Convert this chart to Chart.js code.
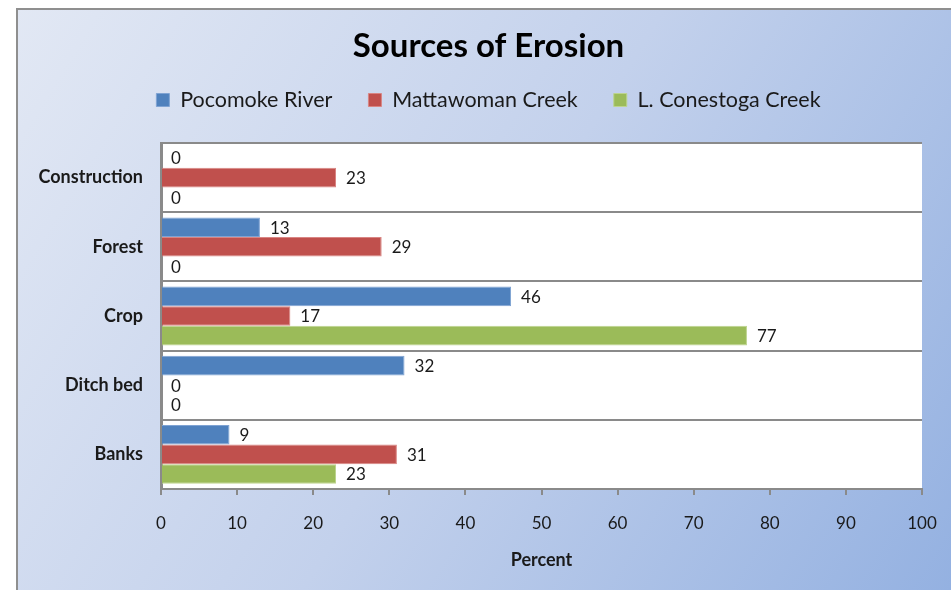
<!DOCTYPE html>
<html>
<head>
<meta charset="utf-8">
<script src="https://cdn.jsdelivr.net/npm/chart.js@4.4.1/dist/chart.umd.min.js"></script>
<style>
  html, body { margin: 0; padding: 0; background: #fff; overflow: hidden; }
  #wrap { width: 951px; height: 590px; }
</style>
</head>
<body>
<div id="wrap"><canvas id="c" width="951" height="590"></canvas></div>
<script>
// Erosion sources, percent of sediment per watershed
const categories = ['Construction', 'Forest', 'Crop', 'Ditch bed', 'Banks'];
const pocomokeRiver = [0, 13, 46, 32, 9];
const mattawomanCreek = [23, 29, 17, 0, 31];
const conestogaCreek = [0, 0, 77, 0, 23];
const xMin = 0, xMax = 100, xStep = 10;

const FONT = 'Lato, "Open Sans", sans-serif';

// Panel background: diagonal blue gradient, grey frame, white plot area
const panelBackground = {
  id: 'panelBackground',
  beforeDraw(chart) {
    const { ctx, width, height, chartArea } = chart;
    ctx.save();
    ctx.fillStyle = '#ffffff';
    ctx.fillRect(0, 0, width, height);
    const g = ctx.createLinearGradient(16, 8, width, height);
    g.addColorStop(0, '#e2e8f4');
    g.addColorStop(0.5, '#c3d1ec');
    g.addColorStop(1, '#94b1e1');
    ctx.fillStyle = g;
    ctx.fillRect(16, 8, width - 16, height - 8);
    ctx.strokeStyle = '#8f8f8f';
    ctx.lineWidth = 2;
    ctx.beginPath();
    ctx.moveTo(17, height);
    ctx.lineTo(17, 9);
    ctx.lineTo(width, 9);
    ctx.stroke();
    ctx.fillStyle = '#ffffff';
    ctx.fillRect(chartArea.left, chartArea.top, chartArea.right - chartArea.left, chartArea.bottom - chartArea.top);
    ctx.restore();
  }
};

// Value labels just past the end of each bar
const barValues = {
  id: 'barValues',
  afterDatasetsDraw(chart) {
    const { ctx } = chart;
    ctx.save();
    ctx.font = '17px ' + FONT;
    ctx.fillStyle = '#1a1a1a';
    ctx.textAlign = 'left';
    ctx.textBaseline = 'middle';
    chart.data.datasets.forEach((ds, i) => {
      chart.getDatasetMeta(i).data.forEach((bar, j) => {
        ctx.fillText(String(ds.data[j]), bar.x + 10, bar.y + 1);
      });
    });
    ctx.restore();
  }
};

new Chart(document.getElementById('c'), {
  type: 'bar',
  data: {
    labels: categories,
    datasets: [
      { label: 'Pocomoke River', data: pocomokeRiver, backgroundColor: '#4f81bd', borderColor: '#7fa3d3', borderWidth: 1, xAxisID: 'x', yAxisID: 'y' },
      { label: 'Mattawoman Creek', data: mattawomanCreek, backgroundColor: '#c0504d', borderColor: '#d98583', borderWidth: 1, xAxisID: 'x', yAxisID: 'y' },
      { label: 'L. Conestoga Creek', data: conestogaCreek, backgroundColor: '#9bbb59', borderColor: '#bdd48e', borderWidth: 1, xAxisID: 'x', yAxisID: 'y' }
    ]
  },
  options: {
    indexAxis: 'y',
    responsive: false,
    animation: false,
    devicePixelRatio: 1,
    barPercentage: 1,
    categoryPercentage: 0.85,
    layout: { padding: { left: 16, top: 8, right: -10, bottom: 19 } },
    plugins: {
      tooltip: { enabled: false },
      title: {
        display: true,
        text: 'Sources of Erosion',
        color: '#000',
        font: { family: FONT, size: 33, weight: 'bold', lineHeight: 1.2 },
        padding: { top: 18.2, bottom: -12.55 }
      },
      legend: {
        display: true,
        position: 'top',
        labels: {
          color: '#1a1a1a',
          font: { family: FONT, size: 21.5 },
          boxWidth: 13,
          boxHeight: 13,
          padding: 36
        }
      }
    },
    scales: {
      x: {
        type: 'linear',
        position: 'bottom',
        min: xMin,
        max: xMax,
        afterFit(s) { s.height = 82; s.paddingLeft = 0; s.paddingRight = 0; },
        ticks: { stepSize: xStep, color: '#1a1a1a', font: { family: FONT, size: 17 }, padding: 18 },
        grid: { drawOnChartArea: false, drawTicks: true, tickLength: 6, color: '#8a8a8a', lineWidth: 2 },
        border: { display: true, color: '#8a8a8a', width: 2 },
        title: { display: true, text: 'Percent', color: '#1a1a1a', font: { family: FONT, size: 18, weight: 'bold' }, padding: { top: 10, bottom: 0 } }
      },
      xTop: {
        type: 'linear',
        position: 'top',
        min: xMin,
        max: xMax,
        afterFit(s) { s.height = 22.25; s.paddingLeft = 0; s.paddingRight = 0; },
        ticks: { display: false },
        grid: { display: false },
        border: { display: false }
      },
      y: {
        type: 'category',
        position: 'left',
        afterFit(s) { s.width = 145; },
        ticks: { color: '#1a1a1a', font: { family: FONT, size: 18, weight: 'bold' }, padding: 18 },
        grid: { offset: true, drawTicks: false, color: '#8a8a8a', lineWidth: 2 },
        border: { display: true, color: '#8a8a8a', width: 3 }
      },
      yRight: {
        type: 'category',
        position: 'right',
        afterFit(s) { s.width = 39; },
        ticks: { display: false },
        grid: { display: false },
        border: { display: false }
      }
    }
  },
  plugins: [panelBackground, barValues]
});
</script>
</body>
</html>
